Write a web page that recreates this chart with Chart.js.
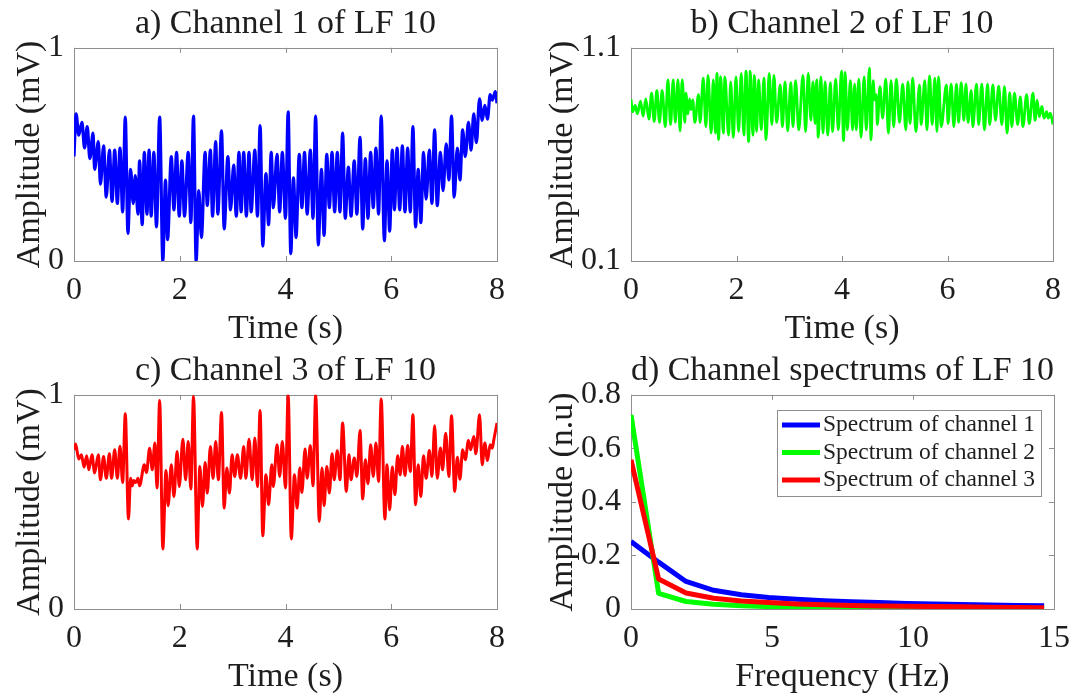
<!DOCTYPE html>
<html>
<head>
<meta charset="utf-8">
<script src="https://cdn.jsdelivr.net/npm/chart.js@4.4.0/dist/chart.umd.min.js"></script>
<style>
  html, body { margin: 0; padding: 0; background: #fff; }
  #page { position: relative; width: 1084px; height: 695px; overflow: hidden; }
  #page canvas { position: absolute; }
</style>
</head>
<body>
<div id="page">
  <canvas id="ch1" width="542" height="347" style="left:0;top:0"></canvas>
  <canvas id="ch2" width="542" height="347" style="left:542px;top:0"></canvas>
  <canvas id="ch3" width="542" height="348" style="left:0;top:347px"></canvas>
  <canvas id="spec" width="542" height="348" style="left:542px;top:347px"></canvas>
</div>
<script>
// ---- channel 1 (time in s, amplitude in mV), peaks and troughs ----
const ch1Time = [
  0, 0.04, 0.09, 0.15, 0.20, 0.25, 0.30, 0.36, 0.39, 0.46,
  0.50, 0.56, 0.61, 0.67, 0.72, 0.77, 0.82, 0.87, 0.92, 0.97,
  1.02, 1.07, 1.12, 1.16, 1.21, 1.24, 1.29, 1.33, 1.38, 1.42,
  1.46, 1.51, 1.56, 1.62, 1.68, 1.73, 1.77, 1.84, 1.89, 1.94,
  1.99, 2.04, 2.09, 2.16, 2.21, 2.26, 2.31, 2.36, 2.41, 2.48,
  2.52, 2.58, 2.62, 2.68, 2.72, 2.79, 2.84, 2.91, 2.96, 3.02,
  3.07, 3.12, 3.16, 3.21, 3.26, 3.31, 3.35, 3.42, 3.47, 3.52,
  3.57, 3.63, 3.68, 3.73, 3.77, 3.84, 3.89, 3.94, 4.00, 4.05,
  4.10, 4.15, 4.20, 4.26, 4.31, 4.36, 4.41, 4.47, 4.52, 4.57,
  4.62, 4.68, 4.73, 4.78, 4.83, 4.88, 4.93, 4.98, 5.03, 5.08,
  5.13, 5.19, 5.24, 5.30, 5.35, 5.41, 5.46, 5.51, 5.56, 5.61,
  5.66, 5.71, 5.76, 5.81, 5.87, 5.92, 5.97, 6.02, 6.06, 6.11,
  6.16, 6.21, 6.26, 6.31, 6.36, 6.41, 6.46, 6.51, 6.56, 6.61,
  6.66, 6.72, 6.77, 6.82, 6.87, 6.93, 6.98, 7.04, 7.09, 7.14,
  7.19, 7.25, 7.30, 7.35, 7.40, 7.46, 7.51, 7.56, 7.61, 7.67,
  7.72, 7.77, 7.82, 7.87, 7.91, 7.97, 8.00
];
const ch1Amp = [
  0.49, 0.69, 0.59, 0.65, 0.53, 0.63, 0.48, 0.60, 0.43, 0.56,
  0.36, 0.54, 0.30, 0.52, 0.28, 0.52, 0.27, 0.53, 0.23, 0.675,
  0.13, 0.43, 0.27, 0.40, 0.22, 0.47, 0.17, 0.51, 0.22, 0.52,
  0.21, 0.51, 0.16, 0.675, 0.0, 0.38, 0.10, 0.49, 0.24, 0.51,
  0.21, 0.47, 0.21, 0.51, 0.18, 0.68, 0.0, 0.33, 0.11, 0.51,
  0.26, 0.52, 0.21, 0.56, 0.22, 0.61, 0.15, 0.49, 0.24, 0.45,
  0.21, 0.51, 0.23, 0.51, 0.21, 0.51, 0.23, 0.52, 0.21, 0.635,
  0.07, 0.41, 0.17, 0.51, 0.25, 0.50, 0.23, 0.51, 0.20, 0.70,
  0.035, 0.39, 0.11, 0.50, 0.25, 0.51, 0.22, 0.52, 0.20, 0.68,
  0.075, 0.43, 0.12, 0.50, 0.25, 0.51, 0.23, 0.51, 0.23, 0.60,
  0.20, 0.44, 0.21, 0.47, 0.22, 0.58, 0.15, 0.48, 0.20, 0.51,
  0.25, 0.53, 0.22, 0.68, 0.095, 0.47, 0.14, 0.52, 0.24, 0.53,
  0.24, 0.54, 0.23, 0.53, 0.23, 0.63, 0.16, 0.43, 0.18, 0.51,
  0.29, 0.52, 0.27, 0.615, 0.26, 0.51, 0.33, 0.55, 0.38, 0.68,
  0.30, 0.53, 0.38, 0.615, 0.49, 0.65, 0.52, 0.69, 0.555, 0.76,
  0.66, 0.73, 0.665, 0.78, 0.755, 0.795, 0.74
];

// ---- channel 2 ----
const ch2Time = [
  0, 0.03, 0.08, 0.12, 0.18, 0.23, 0.28, 0.34, 0.39, 0.44,
  0.49, 0.54, 0.59, 0.65, 0.70, 0.75, 0.80, 0.84, 0.89, 0.93,
  0.97, 1.02, 1.04, 1.08, 1.11, 1.14, 1.17, 1.21, 1.28, 1.31,
  1.37, 1.42, 1.46, 1.52, 1.56, 1.60, 1.63, 1.66, 1.70, 1.75,
  1.78, 1.85, 1.89, 1.94, 1.99, 2.04, 2.09, 2.14, 2.18, 2.23,
  2.26, 2.31, 2.34, 2.38, 2.42, 2.47, 2.52, 2.56, 2.62, 2.67,
  2.71, 2.76, 2.83, 2.87, 2.92, 2.97, 3.03, 3.07, 3.12, 3.18,
  3.26, 3.31, 3.36, 3.41, 3.45, 3.49, 3.52, 3.55, 3.60, 3.64,
  3.68, 3.73, 3.78, 3.82, 3.88, 3.93, 3.99, 4.03, 4.06, 4.10,
  4.16, 4.20, 4.24, 4.27, 4.32, 4.36, 4.42, 4.46, 4.52, 4.55,
  4.59, 4.62, 4.65, 4.67, 4.72, 4.77, 4.83, 4.88, 4.93, 4.98,
  5.03, 5.09, 5.15, 5.21, 5.25, 5.29, 5.34, 5.40, 5.47, 5.50,
  5.57, 5.61, 5.66, 5.71, 5.76, 5.80, 5.83, 5.88, 5.98, 6.01,
  6.07, 6.12, 6.17, 6.21, 6.26, 6.31, 6.35, 6.39, 6.45, 6.48,
  6.55, 6.59, 6.65, 6.70, 6.76, 6.80, 6.86, 6.91, 6.97, 7.03,
  7.08, 7.13, 7.18, 7.22, 7.27, 7.33, 7.38, 7.43, 7.50, 7.55,
  7.62, 7.66, 7.70, 7.74, 7.79, 7.83, 7.88, 7.91, 7.95, 8.00
];
const ch2Amp = [
  0.859, 0.80, 0.83, 0.79, 0.85, 0.78, 0.86, 0.765, 0.887, 0.754,
  0.90, 0.75, 0.90, 0.73, 0.95, 0.74, 0.95, 0.75, 0.95, 0.71,
  0.95, 0.75, 0.887, 0.79, 0.86, 0.81, 0.856, 0.75, 0.88, 0.75,
  0.958, 0.73, 0.97, 0.70, 0.95, 0.70, 0.98, 0.67, 0.965, 0.70,
  0.963, 0.69, 0.94, 0.68, 0.963, 0.707, 0.98, 0.69, 0.99, 0.66,
  0.99, 0.69, 0.97, 0.707, 0.95, 0.715, 0.958, 0.67, 0.98, 0.74,
  0.97, 0.75, 0.926, 0.73, 0.94, 0.71, 0.937, 0.73, 0.946, 0.715,
  0.97, 0.707, 0.98, 0.76, 0.94, 0.745, 0.95, 0.68, 0.963, 0.70,
  0.94, 0.69, 0.937, 0.707, 0.953, 0.715, 0.99, 0.665, 0.985, 0.715,
  0.946, 0.715, 0.93, 0.715, 0.953, 0.68, 0.963, 0.715, 1.005, 0.668,
  0.946, 0.856, 0.88, 0.74, 0.918, 0.77, 0.953, 0.70, 0.946, 0.73,
  0.953, 0.75, 0.93, 0.715, 0.94, 0.745, 0.958, 0.707, 0.926, 0.74,
  0.946, 0.715, 0.968, 0.74, 0.958, 0.707, 0.963, 0.73, 0.926, 0.745,
  0.93, 0.73, 0.93, 0.75, 0.937, 0.76, 0.93, 0.75, 0.90, 0.73,
  0.93, 0.74, 0.93, 0.715, 0.93, 0.74, 0.926, 0.76, 0.92, 0.74,
  0.918, 0.70, 0.89, 0.73, 0.887, 0.74, 0.87, 0.73, 0.88, 0.744,
  0.887, 0.76, 0.853, 0.777, 0.825, 0.77, 0.80, 0.77, 0.793, 0.74
];

// ---- channel 3 ----
const ch3Time = [
  0, 0.03, 0.09, 0.14, 0.19, 0.24, 0.28, 0.34, 0.39, 0.46,
  0.50, 0.56, 0.61, 0.67, 0.71, 0.77, 0.82, 0.87, 0.92, 0.97,
  1.03, 1.07, 1.10, 1.13, 1.17, 1.21, 1.24, 1.33, 1.37, 1.43,
  1.48, 1.53, 1.57, 1.62, 1.68, 1.74, 1.78, 1.84, 1.89, 1.95,
  1.99, 2.06, 2.11, 2.16, 2.21, 2.26, 2.33, 2.38, 2.43, 2.48,
  2.52, 2.58, 2.63, 2.68, 2.73, 2.79, 2.84, 2.89, 2.94, 2.99,
  3.04, 3.09, 3.15, 3.21, 3.25, 3.31, 3.37, 3.42, 3.47, 3.52,
  3.57, 3.63, 3.68, 3.74, 3.77, 3.84, 3.89, 3.94, 4.00, 4.05,
  4.11, 4.17, 4.22, 4.27, 4.31, 4.37, 4.41, 4.47, 4.52, 4.57,
  4.64, 4.69, 4.73, 4.78, 4.83, 4.88, 4.92, 4.98, 5.03, 5.08,
  5.15, 5.20, 5.24, 5.30, 5.35, 5.41, 5.46, 5.51, 5.56, 5.61,
  5.66, 5.71, 5.76, 5.81, 5.88, 5.92, 5.97, 6.02, 6.07, 6.12,
  6.17, 6.21, 6.26, 6.31, 6.36, 6.41, 6.46, 6.51, 6.56, 6.61,
  6.66, 6.72, 6.77, 6.82, 6.87, 6.93, 6.97, 7.03, 7.09, 7.14,
  7.20, 7.25, 7.30, 7.35, 7.40, 7.46, 7.50, 7.56, 7.60, 7.67,
  7.72, 7.77, 7.82, 7.87, 7.91, 7.94, 8.00
];
const ch3Amp = [
  0.743, 0.77, 0.70, 0.72, 0.663, 0.715, 0.65, 0.72, 0.635, 0.72,
  0.603, 0.712, 0.61, 0.725, 0.61, 0.743, 0.61, 0.76, 0.59, 0.911,
  0.42, 0.61, 0.575, 0.60, 0.59, 0.61, 0.575, 0.673, 0.637, 0.75,
  0.65, 0.775, 0.565, 0.973, 0.28, 0.647, 0.482, 0.673, 0.525, 0.735,
  0.572, 0.793, 0.603, 0.782, 0.56, 0.992, 0.28, 0.665, 0.479, 0.684,
  0.541, 0.759, 0.61, 0.782, 0.603, 0.917, 0.471, 0.658, 0.541, 0.72,
  0.619, 0.72, 0.61, 0.759, 0.61, 0.793, 0.603, 0.798, 0.572, 0.927,
  0.342, 0.627, 0.487, 0.673, 0.572, 0.767, 0.619, 0.782, 0.565, 1.0,
  0.327, 0.627, 0.471, 0.658, 0.544, 0.747, 0.61, 0.763, 0.575, 1.0,
  0.409, 0.658, 0.482, 0.665, 0.541, 0.725, 0.603, 0.739, 0.603, 0.868,
  0.549, 0.72, 0.603, 0.705, 0.619, 0.833, 0.513, 0.697, 0.585, 0.767,
  0.619, 0.775, 0.595, 0.98, 0.42, 0.673, 0.463, 0.663, 0.533, 0.715,
  0.627, 0.759, 0.623, 0.763, 0.642, 0.907, 0.487, 0.673, 0.525, 0.715,
  0.61, 0.74, 0.619, 0.855, 0.61, 0.752, 0.65, 0.821, 0.619, 0.902,
  0.549, 0.709, 0.606, 0.743, 0.697, 0.787, 0.743, 0.805, 0.725, 0.907,
  0.673, 0.775, 0.693, 0.767, 0.751, 0.79, 0.868
];

// ---- spectra (Hz, normalised amplitude) ----
const freqBins = [0, 0.98, 1.95, 2.93, 3.91, 4.88, 5.86, 6.84, 7.81, 8.79, 9.77, 10.74, 11.72, 12.70, 13.67, 14.65];
const spec1 = [0.252, 0.175, 0.103, 0.070, 0.053, 0.043, 0.036, 0.031, 0.027, 0.024, 0.021, 0.019, 0.017, 0.015, 0.013, 0.012];
const spec2 = [0.725, 0.058, 0.028, 0.018, 0.012, 0.009, 0.007, 0.006, 0.005, 0.004, 0.004, 0.003, 0.003, 0.003, 0.002, 0.002];
const spec3 = [0.557, 0.112, 0.060, 0.040, 0.030, 0.024, 0.019, 0.016, 0.013, 0.011, 0.010, 0.009, 0.008, 0.007, 0.006, 0.005];
const specLabels = ['Spectrum of channel 1', 'Spectrum of channel 2', 'Spectrum of channel 3'];

// axis ticks
const timeTicks = [0, 2, 4, 6, 8];
const freqTicks = [0, 5, 10, 15];
const ampTicks = [0, 1];
const ampTicks2 = [0.1, 1.1];
const specTicks = [0, 0.2, 0.4, 0.6, 0.8];

const SERIF = '"Liberation Serif", "Times New Roman", serif';
const TEXT = '#1e1e1e';
const FRAME = '#8e8e8e';

const toPoints = (xs, ys) => xs.map((x, i) => ({ x, y: ys[i] }));

// matlab-like box: frame on all four sides with inward ticks, under the data
const boxFrame = {
  id: 'boxFrame',
  beforeDatasetsDraw(chart) {
    const { ctx, chartArea: a, scales: { x, y } } = chart;
    const len = 5;
    ctx.save();
    ctx.strokeStyle = FRAME;
    ctx.lineWidth = 1;
    ctx.beginPath();
    x.ticks.forEach(t => {
      const px = Math.round(x.getPixelForValue(t.value)) + 0.5;
      ctx.moveTo(px, a.bottom); ctx.lineTo(px, a.bottom - len);
      ctx.moveTo(px, a.top); ctx.lineTo(px, a.top + len);
    });
    y.ticks.forEach(t => {
      const py = Math.round(y.getPixelForValue(t.value)) + 0.5;
      ctx.moveTo(a.left, py); ctx.lineTo(a.left + len, py);
      ctx.moveTo(a.right, py); ctx.lineTo(a.right - len, py);
    });
    ctx.stroke();
    ctx.strokeRect(Math.round(a.left) + 0.5, Math.round(a.top) + 0.5,
      Math.round(a.right - a.left), Math.round(a.bottom - a.top));
    ctx.restore();
  }
};

// boxed legend in the upper right corner of the plot area
const boxLegend = {
  id: 'boxLegend',
  afterDatasetsDraw(chart, args, opts) {
    if (!opts.show) return;
    const { ctx, chartArea: a } = chart;
    const sets = chart.data.datasets;
    ctx.save();
    ctx.font = opts.size + 'px ' + SERIF;
    const textW = Math.max(...sets.map(d => ctx.measureText(d.label).width));
    const rowH = 27.5;
    const w = 5 + 38 + 3 + textW + 6;
    const h = 15 + rowH * (sets.length - 1) + 16;
    const x0 = Math.round(a.right - 13 - w), y0 = Math.round(a.top + 15);
    ctx.fillStyle = '#fff';
    ctx.fillRect(x0, y0, w, h);
    ctx.strokeStyle = FRAME;
    ctx.lineWidth = 1;
    ctx.strokeRect(x0 + 0.5, y0 + 0.5, Math.round(w), Math.round(h));
    sets.forEach((d, i) => {
      const cy = y0 + 15 + i * rowH;
      ctx.strokeStyle = d.borderColor;
      ctx.lineWidth = d.borderWidth;
      ctx.beginPath();
      ctx.moveTo(x0 + 5, cy);
      ctx.lineTo(x0 + 43, cy);
      ctx.stroke();
      ctx.fillStyle = TEXT;
      ctx.textBaseline = 'middle';
      ctx.fillText(d.label, x0 + 46, cy);
    });
    ctx.restore();
  }
};

function axis(min, max, ticks, title, size, titlePad) {
  return {
    type: 'linear',
    min, max,
    afterBuildTicks: s => { s.ticks = ticks.map(v => ({ value: v })); },
    afterFit: s => { if (s.isHorizontal()) s.height = size; else s.width = size; },
    grid: { display: false, drawTicks: false },
    border: { display: false },
    ticks: {
      autoSkip: false, maxRotation: 0, padding: 10, color: TEXT,
      font: { family: SERIF, size: 32, lineHeight: 1.2 },
      callback: v => String(v)
    },
    title: {
      display: true, text: title, color: TEXT,
      font: { family: SERIF, size: 34, lineHeight: 1 },
      padding: titlePad
    }
  };
}

function panel(id, cfg) {
  return new Chart(document.getElementById(id), {
    type: 'line',
    data: { datasets: cfg.datasets },
    options: {
      responsive: false,
      animation: false,
      events: [],
      layout: { padding: { left: 0, right: cfg.right, top: 0, bottom: 0 } },
      elements: { point: { radius: 0 } },
      plugins: {
        legend: { display: false },
        tooltip: { enabled: false },
        title: {
          display: true, text: cfg.title, color: TEXT, fullSize: false,
          font: { family: SERIF, size: 34, weight: 'normal', lineHeight: 1.2 },
          padding: { top: 4, bottom: 3 }
        },
        boxLegend: { show: !!cfg.legend, size: 23.5 }
      },
      scales: {
        x: axis(cfg.xMin, cfg.xMax, cfg.xTicks, cfg.xTitle, cfg.xSize, { top: 0, bottom: 1 }),
        y: axis(cfg.yMin, cfg.yMax, cfg.yTicks, cfg.yTitle, cfg.ySize, { top: cfg.yTitlePad, bottom: 0 })
      }
    },
    plugins: [boxFrame, boxLegend]
  });
}

function wave(points, color, width) {
  return {
    data: points, borderColor: color, borderWidth: width,
    cubicInterpolationMode: 'monotone', borderJoinStyle: 'round', fill: false
  };
}

panel('ch1', {
  title: 'a) Channel 1 of LF 10', xTitle: 'Time (s)', yTitle: 'Amplitude (mV)',
  xMin: 0, xMax: 8, xTicks: timeTicks, yMin: 0, yMax: 1, yTicks: ampTicks,
  ySize: 74, xSize: 86, right: 45, yTitlePad: 13,
  datasets: [wave(toPoints(ch1Time, ch1Amp), '#0000ff', 3.2)]
});

panel('ch2', {
  title: 'b) Channel 2 of LF 10', xTitle: 'Time (s)', yTitle: 'Amplitude (mV)',
  xMin: 0, xMax: 8, xTicks: timeTicks, yMin: 0.1, yMax: 1.1, yTicks: ampTicks2,
  ySize: 89, xSize: 86, right: 31, yTitlePad: 4,
  datasets: [wave(toPoints(ch2Time, ch2Amp), '#00ff00', 2.8)]
});

panel('ch3', {
  title: 'c) Channel 3 of LF 10', xTitle: 'Time (s)', yTitle: 'Amplitude (mV)',
  xMin: 0, xMax: 8, xTicks: timeTicks, yMin: 0, yMax: 1, yTicks: ampTicks,
  ySize: 74, xSize: 86, right: 45, yTitlePad: 13,
  datasets: [wave(toPoints(ch3Time, ch3Amp), '#ff0000', 3)]
});

const specColors = ['#0000ff', '#00ff00', '#ff0000'];
panel('spec', {
  title: 'd) Channel spectrums of LF 10', xTitle: 'Frequency (Hz)', yTitle: 'Amplitude (n.u)',
  xMin: 0, xMax: 15, xTicks: freqTicks, yMin: 0, yMax: 0.8, yTicks: specTicks,
  ySize: 89, xSize: 86, right: 30, yTitlePad: 4, legend: true,
  datasets: [spec1, spec2, spec3].map((s, i) => ({
    label: specLabels[i], data: toPoints(freqBins, s),
    borderColor: specColors[i], borderWidth: 5, tension: 0,
    borderJoinStyle: 'round', order: 3 - i
  }))
});
</script>
</body>
</html>
